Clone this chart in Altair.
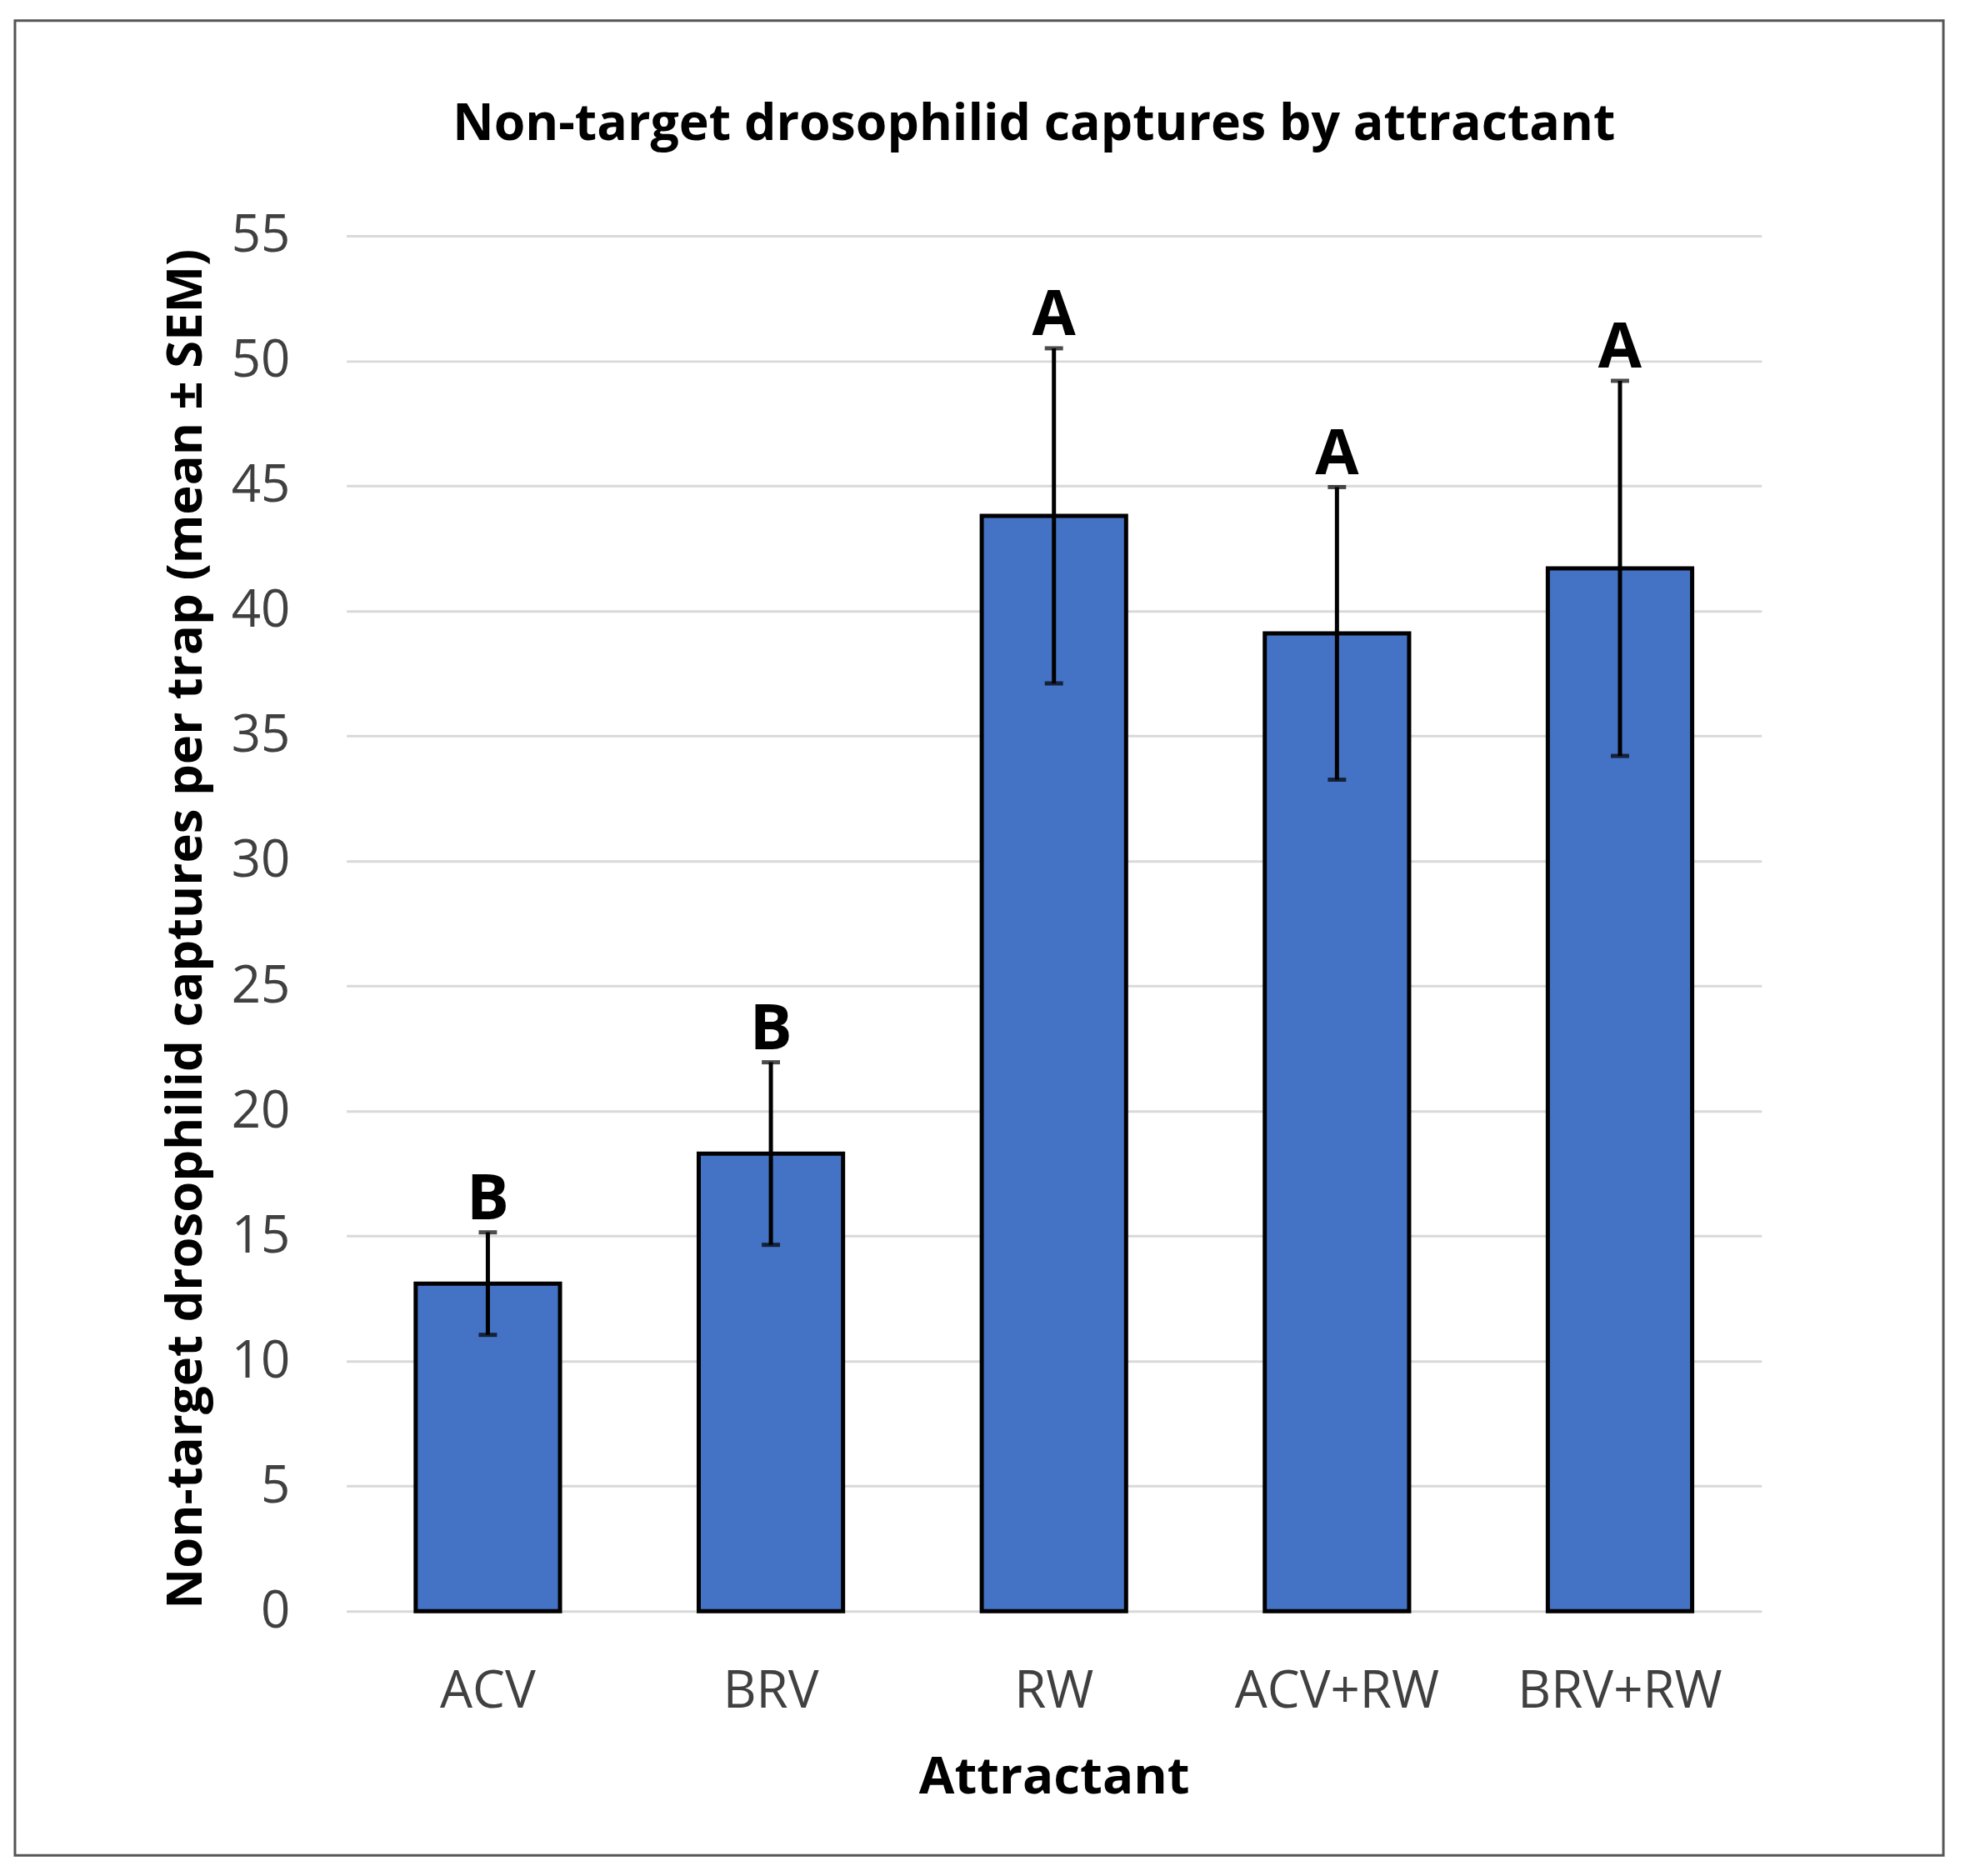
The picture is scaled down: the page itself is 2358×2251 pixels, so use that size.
import altair as alt
import pandas as pd

categories = ["ACV", "BRV", "RW", "ACV+RW", "BRV+RW"]
means = [13.1, 18.3, 43.8, 39.1, 41.7]
sems = [2.05, 3.65, 6.7, 5.85, 7.5]
letters = ["B", "B", "A", "A", "A"]
y_ticks = [0, 5, 10, 15, 20, 25, 30, 35, 40, 45, 50, 55]

df = pd.DataFrame({
    "Attractant": categories,
    "mean": means,
    "sem": sems,
    "letter": letters,
})
df["low"] = df["mean"] - df["sem"]
df["high"] = df["mean"] + df["sem"]

FONT = "Open Sans"
W, H = 1704, 1656

x_enc = alt.X(
    "Attractant:N",
    sort=categories,
    scale=alt.Scale(paddingInner=0.49, paddingOuter=0.245),
    axis=alt.Axis(
        title="Attractant",
        labelAngle=0,
        labelFont=FONT,
        labelFontSize=62,
        labelColor="#404040",
        labelPadding=67,
        labelLimit=0,
        ticks=False,
        tickSize=0,
        domain=False,
        titleFont=FONT,
        titleFontSize=62,
        titleFontWeight="bold",
        titleColor="#000000",
        titleBaseline="alphabetic",
        titleY=219,
    ),
)

y_scale = alt.Scale(domain=[0, 55], nice=False, zero=True)

base = alt.Chart(df)

bars = base.mark_bar(
    color="#4472C4", stroke="#000000", strokeWidth=5
).encode(
    x=x_enc,
    y=alt.Y(
        "mean:Q",
        scale=y_scale,
        axis=alt.Axis(
            title="Non-target drosophilid captures per trap  (mean ± SEM)",
            values=y_ticks,
            labelFont=FONT,
            labelFontSize=62,
            labelColor="#404040",
            labelPadding=68,
            ticks=False,
            tickSize=0,
            domain=False,
            grid=True,
            gridColor="#d9d9d9",
            gridWidth=3,
            titleFont=FONT,
            titleFontSize=60,
            titleFontWeight="bold",
            titleColor="#000000",
            titleBaseline="middle",
            titleX=-193,
            titleY=834,
        ),
    ),
)

rules = base.mark_rule(color="#000000", strokeWidth=5).encode(
    x=alt.X("Attractant:N", sort=categories),
    y="low:Q",
    y2="high:Q",
)

caps_high = base.mark_tick(color="#000000", size=22, thickness=5).encode(
    x=alt.X("Attractant:N", sort=categories),
    y="high:Q",
)
caps_low = base.mark_tick(color="#000000", size=22, thickness=5).encode(
    x=alt.X("Attractant:N", sort=categories),
    y="low:Q",
)

labels = base.mark_text(
    font=FONT, fontSize=76, fontWeight="bold", color="#000000",
    baseline="alphabetic", dy=-16,
).encode(
    x=alt.X("Attractant:N", sort=categories),
    y="high:Q",
    text="letter:N",
)

frame = alt.Chart(pd.DataFrame({"f": [0]})).mark_rect(
    filled=False, stroke="#555555", strokeWidth=3
).encode(
    x=alt.value(-399), x2=alt.value(1923),
    y=alt.value(-259), y2=alt.value(1950),
)

chart = alt.layer(frame, bars, rules, caps_high, caps_low, labels).properties(
    width=W,
    height=H,
    autosize=alt.AutoSizeParams(type="none"),
    padding={"left": 409, "top": 272, "right": 237, "bottom": 315},
    title=alt.TitleParams(
        "Non-target drosophilid captures by attractant",
        font=FONT,
        fontSize=61,
        fontWeight="bold",
        color="#000000",
        anchor="middle",
        offset=-158,
        dx=-24,
    ),
).configure(background="#ffffff").configure_view(stroke=None)

chart.save("out.html", embed_options={"renderer": "svg", "actions": False})
